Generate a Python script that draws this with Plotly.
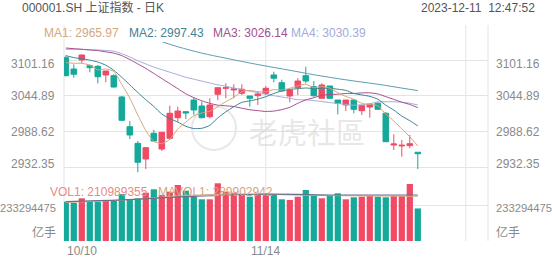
import plotly.graph_objects as go

W, H = 552, 265

# ---------------- data ----------------
idx = list(range(45))
opens = [3104.8, 3087.0, 3101.2, 3092.2, 3091.2, 3077.6, 3076.5, 3043.0, 2996.2, 2970.1,
         2945.4, 2985.9, 2961.1, 2978.0, 3010.4, 3019.8, 3038.2, 3028.8, 3012.0, 3047.2,
         3056.6, 3054.0, 3048.8, 3044.5, 3045.0, 3048.8, 3077.6, 3065.5, 3044.5, 3057.6,
         3076.5, 3059.2, 3040.9, 3060.3, 3038.2, 3030.4, 3038.2, 3021.4, 3027.2, 3033.0,
         3017.3, 2967.4, 2965.9, 2966.4, 2956.0]
highs = [3108.0, 3094.4, 3110.1, 3094.4, 3093.3, 3083.9, 3078.7, 3044.5, 3005.2, 2973.7,
         2964.3, 2991.0, 2987.9, 3029.3, 3027.7, 3020.9, 3041.9, 3035.6, 3040.9, 3057.6,
         3064.5, 3062.9, 3062.9, 3044.5, 3051.3, 3060.3, 3082.8, 3070.2, 3053.9, 3072.4,
         3090.6, 3068.1, 3064.5, 3060.3, 3038.2, 3038.2, 3038.2, 3029.3, 3033.0, 3034.6,
         3019.4, 2984.3, 2975.3, 2983.2, 2956.0]
lows = [3075.5, 3073.3, 3096.0, 3081.8, 3064.5, 3066.1, 3057.6, 3005.2, 2976.9, 2924.5,
        2929.7, 2972.6, 2958.0, 2975.3, 3004.1, 3008.4, 3014.6, 3009.4, 3009.4, 3038.2,
        3040.9, 3040.9, 3046.1, 3027.7, 3030.4, 3046.1, 3066.1, 3051.3, 3034.6, 3046.1,
        3064.5, 3043.4, 3040.9, 3039.8, 3015.7, 3020.9, 3017.3, 3014.6, 3010.4, 3022.5,
        2972.2, 2959.6, 2949.0, 2962.2, 2929.7]
closes = [3076.5, 3078.7, 3109.0, 3089.1, 3074.9, 3083.9, 3058.7, 3006.3, 2983.2, 2940.2,
          2963.2, 2973.7, 2987.4, 3017.3, 3020.9, 3017.8, 3022.5, 3010.4, 3030.4, 3057.6,
          3057.6, 3055.5, 3055.1, 3040.9, 3047.7, 3056.6, 3072.4, 3052.4, 3053.9, 3068.1,
          3068.1, 3045.0, 3061.8, 3040.9, 3033.0, 3038.2, 3023.6, 3029.3, 3031.5, 3023.6,
          2972.6, 2969.0, 2967.0, 2969.5, 2953.7]
volumes = [254700000, 248200000, 276700000, 254700000, 254700000, 259200000, 261200000, 304600000, 270200000, 276700000,
           313000000, 335000000, 298000000, 319500000, 362900000, 326000000, 287000000, 270200000, 270200000, 373900000,
           319500000, 313000000, 304600000, 287000000, 298000000, 309000000, 304600000, 270200000, 265700000, 287000000,
           330500000, 291600000, 276700000, 291600000, 309000000, 270200000, 283200000, 287000000, 291600000, 287000000,
           283200000, 291600000, 291600000, 369400000, 210989355]

ma1 = [3097, 3096, 3096, 3093, 3085.6, 3087.1, 3083.1, 3062.6, 3041.4, 3014.5,
       2990.3, 2973.3, 2969.5, 2976.4, 2992.5, 3003.4, 3013.2, 3017.8, 3020.4, 3027.7,
       3035.7, 3042.3, 3051.2, 3053.3, 3051.4, 3051.2, 3054.5, 3054.0, 3056.6, 3060.7,
       3063.0, 3057.5, 3059.4, 3056.8, 3049.8, 3043.8, 3039.5, 3033.0, 3031.1, 3029.2,
       3016.1, 3005.2, 2992.7, 2980.3, 2965.97]
ma2 = [3108, 3105, 3103, 3101, 3098, 3093, 3085, 3074, 3062, 3050.1,
       3038.7, 3028.2, 3016.1, 3008.9, 3003.5, 2996.9, 2993.3, 2993.7, 2998.4, 3010.1,
       3019.6, 3027.7, 3034.5, 3036.9, 3039.6, 3043.4, 3048.4, 3052.6, 3055.0, 3056.0,
       3057.1, 3056.0, 3056.7, 3056.7, 3055.2, 3053.4, 3048.5, 3046.2, 3044.0, 3039.5,
       3030.0, 3022.4, 3012.9, 3005.7, 2997.43]
ma3 = [3120, 3119, 3118, 3117, 3116, 3114, 3112, 3108, 3102, 3095,
       3088, 3080, 3072, 3064, 3056, 3048, 3042, 3037, 3033, 3030.1,
       3029.1, 3028.0, 3025.3, 3022.9, 3021.5, 3020.2, 3020.8, 3023.1, 3026.7, 3033.1,
       3038.3, 3041.9, 3045.6, 3046.8, 3047.4, 3048.4, 3048.5, 3049.4, 3049.5, 3047.8,
       3043.5, 3039.2, 3034.8, 3031.2, 3026.14]
ma4 = [3118, 3118, 3118, 3117, 3117, 3116, 3115, 3111, 3106, 3100,
       3095, 3090, 3086, 3082, 3078, 3074, 3071, 3068, 3065, 3062,
       3060, 3057, 3055, 3052, 3050, 3047, 3045, 3043, 3041, 3038.7,
       3038.5, 3037.3, 3035.8, 3034.1, 3032.8, 3031.2, 3030.1, 3030.8, 3032.4, 3035.2,
       3035.5, 3035.4, 3034.7, 3033.1, 3030.39]
ma5_x = [12, 14, 17, 20, 24, 28, 31, 35, 39, 42, 44]
ma5 = [3130, 3122, 3112, 3104, 3094, 3085, 3078, 3070, 3063, 3057, 3053]

mavol_a_x = [0, 7, 15, 25, 34, 44]
mavol_a = [255000000, 266000000, 287000000, 304000000, 298000000, 298000000]
mavol_b_x = [0, 8, 15, 22, 30, 38, 44]
mavol_b = [250000000, 268000000, 295000000, 305000000, 296000000, 292000000, 290000000]

price_ticks = [3101.16, 3044.89, 2988.62, 2932.35]
vol_tick = 233294475
x_tick_pos = [0, 25]
x_tick_text = ["10/10", "11/14"]
vgrid_pos = [25, 50]

ma_labels = ["MA1: 2965.97", "MA2: 2997.43", "MA3: 3026.14", "MA4: 3030.39"]
vol_labels = ["VOL1: 210989355", "MAVOL1: 289902942"]

# ---------------- style ----------------
UP = "#f04a64"
DOWN = "#14a999"
MA_COLORS = ["#d4a77e", "#3f8295", "#a34f8c", "#a4aadb"]
MA5_COLOR = "#5d9db3"
GRID = "#e4e4e4"
FONT = "Liberation Sans, Arial, Noto Sans CJK SC, sans-serif"
LBL = "#8a8a8a"


def px(x):
    return x / W


def py(y):
    return 1 - y / H


# price pane pixels 42..180, volume pane 180..241
P_TOP, P_BOT, V_BOT = 42, 180, 241
px_per_val = 1.5733
p_hi = 3101.16 + (60 - P_TOP) * px_per_val
p_lo = 3101.16 - (P_BOT - 60) * px_per_val
v_hi = vol_tick * (V_BOT - P_BOT) / 36.0

x0, pitch = 65.8, 8.0
x_lo = (64 - x0) / pitch
x_hi = (488 - x0) / pitch

fig = go.Figure()

fig.add_trace(go.Candlestick(
    x=idx, open=opens, high=highs, low=lows, close=closes,
    increasing=dict(line=dict(color=UP, width=1), fillcolor=UP),
    decreasing=dict(line=dict(color=DOWN, width=1), fillcolor=DOWN),
    whiskerwidth=0, xaxis="x", yaxis="y", showlegend=False, hoverinfo="skip"))

for vals, col in zip([ma4, ma3, ma2, ma1], [MA_COLORS[3], MA_COLORS[2], MA_COLORS[1], MA_COLORS[0]]):
    fig.add_trace(go.Scatter(x=idx, y=vals, mode="lines", line=dict(color=col, width=1, shape="spline", smoothing=0.6),
                             xaxis="x", yaxis="y", showlegend=False, hoverinfo="skip"))
fig.add_trace(go.Scatter(x=ma5_x, y=ma5, mode="lines", line=dict(color=MA5_COLOR, width=1, shape="spline"),
                         xaxis="x", yaxis="y", showlegend=False, hoverinfo="skip"))

vcolors = [UP if c > o else DOWN for o, c in zip(opens, closes)]
fig.add_trace(go.Bar(x=idx, y=volumes, marker=dict(color=vcolors, line=dict(width=0)), width=0.78,
                     xaxis="x2", yaxis="y2", showlegend=False, hoverinfo="skip"))
fig.add_trace(go.Scatter(x=mavol_b_x, y=mavol_b, mode="lines", line=dict(color="#d9b08a", width=1, shape="spline"),
                         xaxis="x2", yaxis="y2", showlegend=False, hoverinfo="skip"))
fig.add_trace(go.Scatter(x=mavol_a_x, y=mavol_a, mode="lines", line=dict(color="#6a6f8f", width=1.2, shape="spline"),
                         xaxis="x2", yaxis="y2", showlegend=False, hoverinfo="skip"))

xdom = [px(64), px(488)]
fig.update_layout(
    width=W, height=H, margin=dict(l=0, r=0, t=0, b=0),
    paper_bgcolor="white", plot_bgcolor="white",
    boxgap=0.3, boxgroupgap=0,
    font=dict(family=FONT, size=12, color=LBL),
    xaxis=dict(domain=xdom, range=[x_lo, x_hi], anchor="y", showgrid=False, zeroline=False,
               showticklabels=False, ticks="", rangeslider=dict(visible=False)),
    xaxis2=dict(domain=xdom, range=[x_lo, x_hi], matches="x", anchor="y2", showgrid=False, zeroline=False,
                showticklabels=False, ticks=""),
    yaxis=dict(domain=[py(P_BOT), py(P_TOP)], range=[p_lo, p_hi], tickvals=price_ticks, showgrid=True,
               gridcolor=GRID, gridwidth=1, zeroline=False, showticklabels=False, ticks=""),
    yaxis2=dict(domain=[py(V_BOT), py(P_BOT)], range=[0, v_hi], tickvals=[0, vol_tick], showgrid=True,
                gridcolor=GRID, gridwidth=1, zeroline=False, showticklabels=False, ticks=""),
)

shapes = []
# vertical grid lines spanning both panes
for xv in vgrid_pos:
    shapes.append(dict(type="line", xref="x", yref="paper", x0=xv, x1=xv, y0=py(V_BOT), y1=py(25),
                       line=dict(color=GRID, width=1), layer="below"))
for xp in [64, 488]:
    shapes.append(dict(type="line", xref="paper", yref="paper", x0=px(xp), x1=px(xp), y0=py(V_BOT), y1=py(25),
                       line=dict(color=GRID, width=1), layer="below"))
# watermark circle
shapes.append(dict(type="circle", xref="paper", yref="paper", x0=px(192), x1=px(236), y0=py(150), y1=py(106),
                   line=dict(color="#e8e8e8", width=2), layer="below"))
fig.update_layout(shapes=shapes)

ann = []
# watermark text
ann.append(dict(text="老虎社區", xref="paper", yref="paper", x=px(307), y=py(131), showarrow=False,
                font=dict(size=29, color="rgba(210,210,210,0.55)", family="Noto Sans CJK SC")))
# header
ann.append(dict(text="000001.SH 上证指数 - 日K", xref="paper", yref="paper", x=px(20), y=py(8),
                xanchor="left", yanchor="middle", showarrow=False, font=dict(size=12, color="#555")))
ann.append(dict(text="2023-12-11\u00a0\u00a012:47:52", xref="paper", yref="paper", x=px(537), y=py(8),
                xanchor="right", yanchor="middle", showarrow=False, font=dict(size=12, color="#555")))
# MA legend
for lbl, col, xl in zip(ma_labels, MA_COLORS, [42, 127, 211, 289]):
    ann.append(dict(text=lbl, xref="paper", yref="paper", x=px(xl), y=py(33), xanchor="left", yanchor="middle",
                    showarrow=False, font=dict(size=12, color=col)))
# VOL legend
for lbl, col, xl in zip(vol_labels, ["#e88a86", "#d4a47a"], [48, 156]):
    ann.append(dict(text=lbl, xref="paper", yref="paper", x=px(xl), y=py(192), xanchor="left", yanchor="middle",
                    showarrow=False, font=dict(size=12, color=col)))
# price tick labels (left and right)
shifts = {3101.16: -4, 3044.89: 0, 2988.62: 0, 2932.35: 3}
for v in price_ticks:
    for xp, anc in [(57, "right"), (494, "left")]:
        ann.append(dict(text=f"{v:.2f}", xref="paper", yref="y", x=px(xp), y=v, xanchor=anc, yanchor="middle",
                        yshift=shifts[v], showarrow=False, font=dict(size=12, color=LBL)))
# volume tick labels
for xp, anc in [(57.5, "right"), (493.5, "left")]:
    ann.append(dict(text=str(vol_tick), xref="paper", yref="y2", x=px(xp), y=vol_tick, xanchor=anc,
                    yanchor="middle", yshift=-3, showarrow=False, font=dict(size=11.2, color=LBL)))
    ann.append(dict(text="亿手", xref="paper", yref="y2", x=px(xp), y=0, xanchor=anc,
                    yanchor="bottom", yshift=-1, showarrow=False, font=dict(size=12, color=LBL)))
# x tick labels
for xv, t in zip(x_tick_pos, x_tick_text):
    ann.append(dict(text=t, xref="x2", yref="paper", x=xv, y=py(251), xanchor="left" if xv == 0 else "center",
                    xshift=-1 if xv == 0 else 0, yanchor="middle", showarrow=False, font=dict(size=12, color=LBL)))
fig.update_layout(annotations=ann)

fig.write_html("out.html")
